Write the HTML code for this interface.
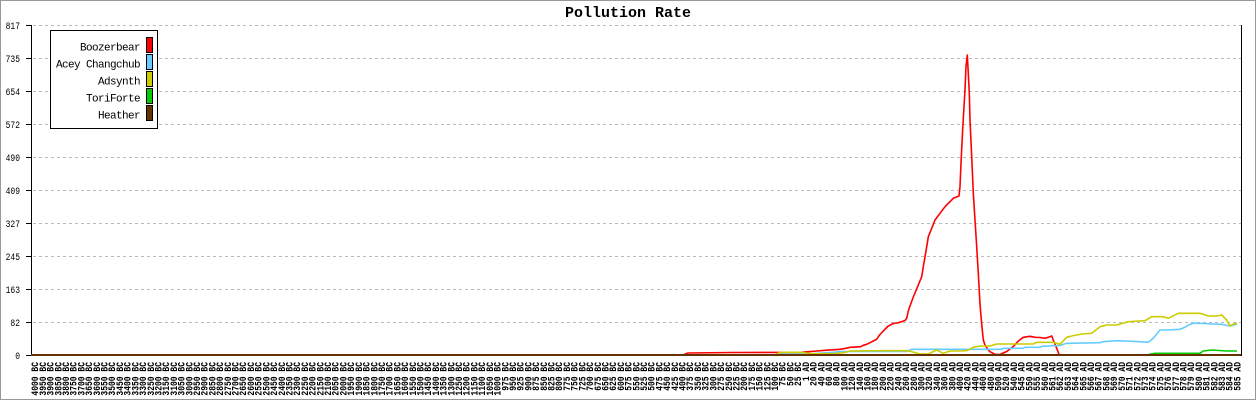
<!DOCTYPE html>
<html><head><meta charset="utf-8"><style>
html,body{margin:0;padding:0;background:#fff;}
svg{display:block;}
text{font-family:"Liberation Mono",monospace;fill:#000;}
.xl{font-size:10px;font-weight:bold;}
.yl{font-size:10px;}
</style></head><body>
<svg width="1256" height="400" viewBox="0 0 1256 400" xmlns="http://www.w3.org/2000/svg">
<rect x="0.5" y="0.5" width="1255" height="399" fill="#fff" stroke="#999" stroke-width="1"/>
<text x="628" y="17" text-anchor="middle" font-size="15" font-weight="bold">Pollution Rate</text>
<g stroke="#bbb" stroke-width="1" stroke-dasharray="3,3">
<line x1="33" y1="25.5" x2="1241" y2="25.5"/>
<line x1="33" y1="58.5" x2="1241" y2="58.5"/>
<line x1="33" y1="91.5" x2="1241" y2="91.5"/>
<line x1="33" y1="124.5" x2="1241" y2="124.5"/>
<line x1="33" y1="157.5" x2="1241" y2="157.5"/>
<line x1="33" y1="190.5" x2="1241" y2="190.5"/>
<line x1="33" y1="223.5" x2="1241" y2="223.5"/>
<line x1="33" y1="256.5" x2="1241" y2="256.5"/>
<line x1="33" y1="289.5" x2="1241" y2="289.5"/>
<line x1="33" y1="322.5" x2="1241" y2="322.5"/>
</g>
<g stroke="#000" stroke-width="1">
<line x1="31.5" y1="25" x2="31.5" y2="356"/>
<line x1="1241.5" y1="25" x2="1241.5" y2="356"/>
<line x1="31" y1="355.5" x2="1242" y2="355.5"/>
<line x1="26" y1="25.5" x2="31" y2="25.5"/>
<line x1="26" y1="58.5" x2="31" y2="58.5"/>
<line x1="26" y1="91.5" x2="31" y2="91.5"/>
<line x1="26" y1="124.5" x2="31" y2="124.5"/>
<line x1="26" y1="157.5" x2="31" y2="157.5"/>
<line x1="26" y1="190.5" x2="31" y2="190.5"/>
<line x1="26" y1="223.5" x2="31" y2="223.5"/>
<line x1="26" y1="256.5" x2="31" y2="256.5"/>
<line x1="26" y1="289.5" x2="31" y2="289.5"/>
<line x1="26" y1="322.5" x2="31" y2="322.5"/>
<line x1="26" y1="355.5" x2="31" y2="355.5"/>
</g>
<g class="yl" text-anchor="end">
<text transform="translate(20,29) scale(0.8,1)">817</text>
<text transform="translate(20,62) scale(0.8,1)">735</text>
<text transform="translate(20,95) scale(0.8,1)">654</text>
<text transform="translate(20,128) scale(0.8,1)">572</text>
<text transform="translate(20,161) scale(0.8,1)">490</text>
<text transform="translate(20,194) scale(0.8,1)">409</text>
<text transform="translate(20,227) scale(0.8,1)">327</text>
<text transform="translate(20,260) scale(0.8,1)">245</text>
<text transform="translate(20,293) scale(0.8,1)">163</text>
<text transform="translate(20,326) scale(0.8,1)">82</text>
<text transform="translate(20,359) scale(0.8,1)">0</text>
</g>
<g fill="none" stroke-width="1.6" stroke-linejoin="round">
<polyline stroke="#ff0000" points="684,354.5 688,353 732,352.5 801,352.3 817,351 825,350.3 840,349.3 846,348.3 850,347.3 860.7,346.7 863.3,345.3 866.7,344.3 870,342.7 873.3,341 876.7,339.3 878.3,336.7 880,334.5 883.3,331 888.3,326 893.3,323.5 898.3,322.7 905,320.5 906.7,318.3 908.3,311 910,306 913.3,297 918.3,285 921.7,276.7 923.3,266.7 925,256.7 926.7,246.7 928.3,236.7 931.7,228.3 935,220 940,213.3 945,206.7 950,201.7 953.3,198.3 959,196 960,186.7 961,163.3 962.3,136.7 963.3,118.3 965,90 966,66.7 967.3,55 968.3,73.3 969.3,93.3 970,120 971.7,156.7 972.3,170 973.3,193.3 975,220 976.7,246.7 978.3,273.3 980,304 981.7,324 983.3,340 985,345 988.3,350 990,351.7 995,354.3 1000,354.5 1006.7,351.5 1013.3,346.5 1018.3,341 1023.3,337.3 1030,336.3 1035,337.3 1040,337.5 1045,338.3 1050,336.7 1051.7,336 1053.3,340 1056.7,348.3 1059.3,355 1237,355"/>
<polyline stroke="#66ccff" points="778,354.3 809,354 818,353.3 833,352.3 840,351.5 906.7,351.5 911.7,349.3 1001.7,349.3 1003.3,348.3 1023.3,348.3 1025,347.3 1040,347.3 1041.7,346.3 1060,345.5 1066.7,343.3 1100,342.7 1103.3,341.7 1116.7,340.7 1140,341.7 1148.3,342.3 1153.3,338.3 1160,330 1166.7,330 1180,329.3 1185,327.3 1188.3,325 1193.3,323.3 1200,323.3 1213.3,324 1221.7,324.3 1230,326 1237,324"/>
<polyline stroke="#cccc00" points="776,354 781,352.3 801,352.3 810,353.5 835,353.7 845,352.5 850,351 880,350.7 906.7,350.7 911.7,351.7 920,354 928.3,354 936.7,350 943.3,353.3 950,351 960,351 966.7,350.7 973.3,347.3 980,346 990,346 996.7,344 1033.3,344 1036.7,342.3 1053.3,342.3 1060,344.3 1066.7,337.3 1071.7,336 1081.7,334 1091.7,333.3 1100,326.7 1106.7,325 1116.7,325 1128.3,321.7 1145,320.7 1151.7,316.7 1163.3,316.7 1168.3,318.3 1178.3,313.3 1200,313.3 1208.3,316 1216.7,316 1221.7,315 1226.7,320 1230,326 1233.3,324 1237,323.3"/>
<polyline stroke="#00cc00" points="1148.3,354.5 1155,353.3 1200,353.3 1203.3,351 1211.7,350 1226.7,351 1237,351"/>
<polyline stroke="#663300" stroke-width="2" points="31,355 1241,355"/>
</g>
<rect x="50.5" y="30.5" width="107" height="98" fill="#fff" stroke="#000" stroke-width="1"/>
<g font-size="11" letter-spacing="-0.6" text-anchor="end">
<text x="140" y="50.5">Boozerbear</text>
<text x="140" y="67.5">Acey Changchub</text>
<text x="140" y="84.5">Adsynth</text>
<text x="140" y="101.5">ToriForte</text>
<text x="140" y="118.5">Heather</text>
</g>
<g stroke="#000" stroke-width="1">
<rect x="146.5" y="37.5" width="6" height="15" fill="#ff0000"/>
<rect x="146.5" y="54.5" width="6" height="15" fill="#66ccff"/>
<rect x="146.5" y="71.5" width="6" height="15" fill="#cccc00"/>
<rect x="146.5" y="88.5" width="6" height="15" fill="#00cc00"/>
<rect x="146.5" y="105.5" width="6" height="15" fill="#663300"/>
</g>
<g class="xl" text-anchor="end">
<g transform="translate(0.8,0)">
<text transform="translate(37.4,362) rotate(-90) scale(0.8,1)">4000 BC</text>
<text transform="translate(45.1,362) rotate(-90) scale(0.8,1)">3950 BC</text>
<text transform="translate(52.8,362) rotate(-90) scale(0.8,1)">3900 BC</text>
<text transform="translate(60.5,362) rotate(-90) scale(0.8,1)">3850 BC</text>
<text transform="translate(68.2,362) rotate(-90) scale(0.8,1)">3800 BC</text>
<text transform="translate(75.9,362) rotate(-90) scale(0.8,1)">3750 BC</text>
<text transform="translate(83.6,362) rotate(-90) scale(0.8,1)">3700 BC</text>
<text transform="translate(91.3,362) rotate(-90) scale(0.8,1)">3650 BC</text>
<text transform="translate(99.0,362) rotate(-90) scale(0.8,1)">3600 BC</text>
<text transform="translate(106.7,362) rotate(-90) scale(0.8,1)">3550 BC</text>
<text transform="translate(114.4,362) rotate(-90) scale(0.8,1)">3500 BC</text>
<text transform="translate(122.1,362) rotate(-90) scale(0.8,1)">3450 BC</text>
<text transform="translate(129.8,362) rotate(-90) scale(0.8,1)">3400 BC</text>
<text transform="translate(137.5,362) rotate(-90) scale(0.8,1)">3350 BC</text>
<text transform="translate(145.3,362) rotate(-90) scale(0.8,1)">3300 BC</text>
<text transform="translate(153.0,362) rotate(-90) scale(0.8,1)">3250 BC</text>
<text transform="translate(160.7,362) rotate(-90) scale(0.8,1)">3200 BC</text>
<text transform="translate(168.4,362) rotate(-90) scale(0.8,1)">3150 BC</text>
<text transform="translate(176.1,362) rotate(-90) scale(0.8,1)">3100 BC</text>
<text transform="translate(183.8,362) rotate(-90) scale(0.8,1)">3050 BC</text>
<text transform="translate(191.5,362) rotate(-90) scale(0.8,1)">3000 BC</text>
<text transform="translate(199.2,362) rotate(-90) scale(0.8,1)">2950 BC</text>
<text transform="translate(206.9,362) rotate(-90) scale(0.8,1)">2900 BC</text>
<text transform="translate(214.6,362) rotate(-90) scale(0.8,1)">2850 BC</text>
<text transform="translate(222.3,362) rotate(-90) scale(0.8,1)">2800 BC</text>
<text transform="translate(230.0,362) rotate(-90) scale(0.8,1)">2750 BC</text>
<text transform="translate(237.7,362) rotate(-90) scale(0.8,1)">2700 BC</text>
<text transform="translate(245.4,362) rotate(-90) scale(0.8,1)">2650 BC</text>
<text transform="translate(253.2,362) rotate(-90) scale(0.8,1)">2600 BC</text>
<text transform="translate(260.9,362) rotate(-90) scale(0.8,1)">2550 BC</text>
<text transform="translate(268.6,362) rotate(-90) scale(0.8,1)">2500 BC</text>
<text transform="translate(276.3,362) rotate(-90) scale(0.8,1)">2450 BC</text>
<text transform="translate(284.0,362) rotate(-90) scale(0.8,1)">2400 BC</text>
<text transform="translate(291.7,362) rotate(-90) scale(0.8,1)">2350 BC</text>
<text transform="translate(299.4,362) rotate(-90) scale(0.8,1)">2300 BC</text>
<text transform="translate(307.1,362) rotate(-90) scale(0.8,1)">2250 BC</text>
<text transform="translate(314.8,362) rotate(-90) scale(0.8,1)">2200 BC</text>
<text transform="translate(322.5,362) rotate(-90) scale(0.8,1)">2150 BC</text>
<text transform="translate(330.2,362) rotate(-90) scale(0.8,1)">2100 BC</text>
<text transform="translate(337.9,362) rotate(-90) scale(0.8,1)">2050 BC</text>
<text transform="translate(345.6,362) rotate(-90) scale(0.8,1)">2000 BC</text>
<text transform="translate(353.3,362) rotate(-90) scale(0.8,1)">1950 BC</text>
<text transform="translate(361.0,362) rotate(-90) scale(0.8,1)">1900 BC</text>
<text transform="translate(368.8,362) rotate(-90) scale(0.8,1)">1850 BC</text>
<text transform="translate(376.5,362) rotate(-90) scale(0.8,1)">1800 BC</text>
<text transform="translate(384.2,362) rotate(-90) scale(0.8,1)">1750 BC</text>
<text transform="translate(391.9,362) rotate(-90) scale(0.8,1)">1700 BC</text>
<text transform="translate(399.6,362) rotate(-90) scale(0.8,1)">1650 BC</text>
<text transform="translate(407.3,362) rotate(-90) scale(0.8,1)">1600 BC</text>
<text transform="translate(415.0,362) rotate(-90) scale(0.8,1)">1550 BC</text>
<text transform="translate(422.7,362) rotate(-90) scale(0.8,1)">1500 BC</text>
<text transform="translate(430.4,362) rotate(-90) scale(0.8,1)">1450 BC</text>
<text transform="translate(438.1,362) rotate(-90) scale(0.8,1)">1400 BC</text>
<text transform="translate(445.8,362) rotate(-90) scale(0.8,1)">1350 BC</text>
<text transform="translate(453.5,362) rotate(-90) scale(0.8,1)">1300 BC</text>
<text transform="translate(461.2,362) rotate(-90) scale(0.8,1)">1250 BC</text>
<text transform="translate(468.9,362) rotate(-90) scale(0.8,1)">1200 BC</text>
<text transform="translate(476.7,362) rotate(-90) scale(0.8,1)">1150 BC</text>
<text transform="translate(484.4,362) rotate(-90) scale(0.8,1)">1100 BC</text>
<text transform="translate(492.1,362) rotate(-90) scale(0.8,1)">1050 BC</text>
<text transform="translate(499.8,362) rotate(-90) scale(0.8,1)">1000 BC</text>
<text transform="translate(507.5,362) rotate(-90) scale(0.8,1)">975 BC</text>
<text transform="translate(515.2,362) rotate(-90) scale(0.8,1)">950 BC</text>
<text transform="translate(522.9,362) rotate(-90) scale(0.8,1)">925 BC</text>
<text transform="translate(530.6,362) rotate(-90) scale(0.8,1)">900 BC</text>
<text transform="translate(538.3,362) rotate(-90) scale(0.8,1)">875 BC</text>
<text transform="translate(546.0,362) rotate(-90) scale(0.8,1)">850 BC</text>
<text transform="translate(553.7,362) rotate(-90) scale(0.8,1)">825 BC</text>
<text transform="translate(561.4,362) rotate(-90) scale(0.8,1)">800 BC</text>
<text transform="translate(569.1,362) rotate(-90) scale(0.8,1)">775 BC</text>
<text transform="translate(576.8,362) rotate(-90) scale(0.8,1)">750 BC</text>
<text transform="translate(584.5,362) rotate(-90) scale(0.8,1)">725 BC</text>
<text transform="translate(592.3,362) rotate(-90) scale(0.8,1)">700 BC</text>
<text transform="translate(600.0,362) rotate(-90) scale(0.8,1)">675 BC</text>
<text transform="translate(607.7,362) rotate(-90) scale(0.8,1)">650 BC</text>
<text transform="translate(615.4,362) rotate(-90) scale(0.8,1)">625 BC</text>
<text transform="translate(623.1,362) rotate(-90) scale(0.8,1)">600 BC</text>
<text transform="translate(630.8,362) rotate(-90) scale(0.8,1)">575 BC</text>
<text transform="translate(638.5,362) rotate(-90) scale(0.8,1)">550 BC</text>
<text transform="translate(646.2,362) rotate(-90) scale(0.8,1)">525 BC</text>
<text transform="translate(653.9,362) rotate(-90) scale(0.8,1)">500 BC</text>
<text transform="translate(661.6,362) rotate(-90) scale(0.8,1)">475 BC</text>
<text transform="translate(669.3,362) rotate(-90) scale(0.8,1)">450 BC</text>
<text transform="translate(677.0,362) rotate(-90) scale(0.8,1)">425 BC</text>
<text transform="translate(684.7,362) rotate(-90) scale(0.8,1)">400 BC</text>
<text transform="translate(692.4,362) rotate(-90) scale(0.8,1)">375 BC</text>
<text transform="translate(700.2,362) rotate(-90) scale(0.8,1)">350 BC</text>
<text transform="translate(707.9,362) rotate(-90) scale(0.8,1)">325 BC</text>
<text transform="translate(715.6,362) rotate(-90) scale(0.8,1)">300 BC</text>
<text transform="translate(723.3,362) rotate(-90) scale(0.8,1)">275 BC</text>
<text transform="translate(731.0,362) rotate(-90) scale(0.8,1)">250 BC</text>
<text transform="translate(738.7,362) rotate(-90) scale(0.8,1)">225 BC</text>
<text transform="translate(746.4,362) rotate(-90) scale(0.8,1)">200 BC</text>
<text transform="translate(754.1,362) rotate(-90) scale(0.8,1)">175 BC</text>
<text transform="translate(761.8,362) rotate(-90) scale(0.8,1)">150 BC</text>
<text transform="translate(769.5,362) rotate(-90) scale(0.8,1)">125 BC</text>
<text transform="translate(777.2,362) rotate(-90) scale(0.8,1)">100 BC</text>
<text transform="translate(784.9,362) rotate(-90) scale(0.8,1)">75 BC</text>
<text transform="translate(792.6,362) rotate(-90) scale(0.8,1)">50 BC</text>
<text transform="translate(800.3,362) rotate(-90) scale(0.8,1)">25 BC</text>
<text transform="translate(808.1,362) rotate(-90) scale(0.8,1)">1 AD</text>
<text transform="translate(815.8,362) rotate(-90) scale(0.8,1)">20 AD</text>
<text transform="translate(823.5,362) rotate(-90) scale(0.8,1)">40 AD</text>
<text transform="translate(831.2,362) rotate(-90) scale(0.8,1)">60 AD</text>
<text transform="translate(838.9,362) rotate(-90) scale(0.8,1)">80 AD</text>
<text transform="translate(846.6,362) rotate(-90) scale(0.8,1)">100 AD</text>
<text transform="translate(854.3,362) rotate(-90) scale(0.8,1)">120 AD</text>
<text transform="translate(862.0,362) rotate(-90) scale(0.8,1)">140 AD</text>
<text transform="translate(869.7,362) rotate(-90) scale(0.8,1)">160 AD</text>
<text transform="translate(877.4,362) rotate(-90) scale(0.8,1)">180 AD</text>
<text transform="translate(885.1,362) rotate(-90) scale(0.8,1)">200 AD</text>
<text transform="translate(892.8,362) rotate(-90) scale(0.8,1)">220 AD</text>
<text transform="translate(900.5,362) rotate(-90) scale(0.8,1)">240 AD</text>
<text transform="translate(908.2,362) rotate(-90) scale(0.8,1)">260 AD</text>
<text transform="translate(916.0,362) rotate(-90) scale(0.8,1)">280 AD</text>
<text transform="translate(923.7,362) rotate(-90) scale(0.8,1)">300 AD</text>
<text transform="translate(931.4,362) rotate(-90) scale(0.8,1)">320 AD</text>
<text transform="translate(939.1,362) rotate(-90) scale(0.8,1)">340 AD</text>
<text transform="translate(946.8,362) rotate(-90) scale(0.8,1)">360 AD</text>
<text transform="translate(954.5,362) rotate(-90) scale(0.8,1)">380 AD</text>
<text transform="translate(962.2,362) rotate(-90) scale(0.8,1)">400 AD</text>
<text transform="translate(969.9,362) rotate(-90) scale(0.8,1)">420 AD</text>
<text transform="translate(977.6,362) rotate(-90) scale(0.8,1)">440 AD</text>
<text transform="translate(985.3,362) rotate(-90) scale(0.8,1)">460 AD</text>
<text transform="translate(993.0,362) rotate(-90) scale(0.8,1)">480 AD</text>
<text transform="translate(1000.7,362) rotate(-90) scale(0.8,1)">500 AD</text>
<text transform="translate(1008.4,362) rotate(-90) scale(0.8,1)">520 AD</text>
<text transform="translate(1016.1,362) rotate(-90) scale(0.8,1)">540 AD</text>
<text transform="translate(1023.9,362) rotate(-90) scale(0.8,1)">545 AD</text>
<text transform="translate(1031.6,362) rotate(-90) scale(0.8,1)">550 AD</text>
<text transform="translate(1039.3,362) rotate(-90) scale(0.8,1)">555 AD</text>
<text transform="translate(1047.0,362) rotate(-90) scale(0.8,1)">560 AD</text>
<text transform="translate(1054.7,362) rotate(-90) scale(0.8,1)">561 AD</text>
<text transform="translate(1062.4,362) rotate(-90) scale(0.8,1)">562 AD</text>
<text transform="translate(1070.1,362) rotate(-90) scale(0.8,1)">563 AD</text>
<text transform="translate(1077.8,362) rotate(-90) scale(0.8,1)">564 AD</text>
<text transform="translate(1085.5,362) rotate(-90) scale(0.8,1)">565 AD</text>
<text transform="translate(1093.2,362) rotate(-90) scale(0.8,1)">566 AD</text>
<text transform="translate(1100.9,362) rotate(-90) scale(0.8,1)">567 AD</text>
<text transform="translate(1108.6,362) rotate(-90) scale(0.8,1)">568 AD</text>
<text transform="translate(1116.3,362) rotate(-90) scale(0.8,1)">569 AD</text>
<text transform="translate(1124.0,362) rotate(-90) scale(0.8,1)">570 AD</text>
<text transform="translate(1131.7,362) rotate(-90) scale(0.8,1)">571 AD</text>
<text transform="translate(1139.5,362) rotate(-90) scale(0.8,1)">572 AD</text>
<text transform="translate(1147.2,362) rotate(-90) scale(0.8,1)">573 AD</text>
<text transform="translate(1154.9,362) rotate(-90) scale(0.8,1)">574 AD</text>
<text transform="translate(1162.6,362) rotate(-90) scale(0.8,1)">575 AD</text>
<text transform="translate(1170.3,362) rotate(-90) scale(0.8,1)">576 AD</text>
<text transform="translate(1178.0,362) rotate(-90) scale(0.8,1)">577 AD</text>
<text transform="translate(1185.7,362) rotate(-90) scale(0.8,1)">578 AD</text>
<text transform="translate(1193.4,362) rotate(-90) scale(0.8,1)">579 AD</text>
<text transform="translate(1201.1,362) rotate(-90) scale(0.8,1)">580 AD</text>
<text transform="translate(1208.8,362) rotate(-90) scale(0.8,1)">581 AD</text>
<text transform="translate(1216.5,362) rotate(-90) scale(0.8,1)">582 AD</text>
<text transform="translate(1224.2,362) rotate(-90) scale(0.8,1)">583 AD</text>
<text transform="translate(1231.9,362) rotate(-90) scale(0.8,1)">584 AD</text>
<text transform="translate(1239.6,362) rotate(-90) scale(0.8,1)">585 AD</text>
</g>
</g>
</svg>
</body></html>
